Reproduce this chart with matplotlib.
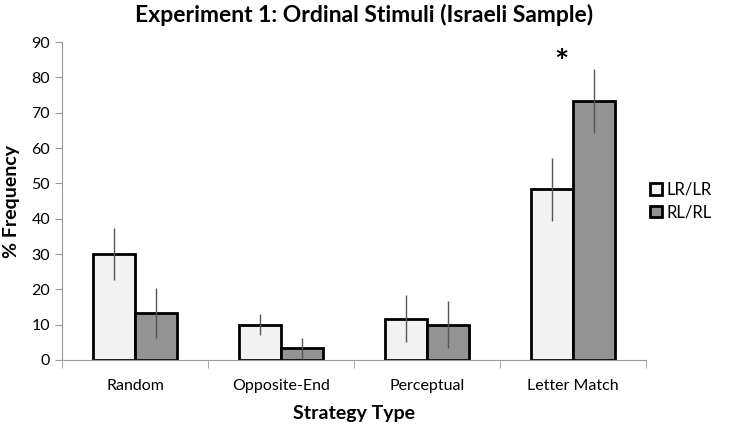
import numpy as np
import matplotlib
matplotlib.use("Agg")
import matplotlib.pyplot as plt

plt.rcParams['font.family'] = ['Lato', 'DejaVu Sans']

categories = ["Random", "Opposite-End", "Perceptual", "Letter Match"]
lr_vals = [30.0, 10.0, 11.7, 48.3]
rl_vals = [13.3, 3.3, 10.0, 73.3]
lr_err = [7.3, 3.0, 6.6, 9.0]
rl_err = [7.2, 3.0, 6.6, 9.0]
series_names = ["LR/LR", "RL/RL"]

fig = plt.figure(figsize=(7.29, 4.32), dpi=100)
ax = fig.add_axes([0.085, 0.1667, 0.801, 0.736])

x = np.arange(len(categories))
w = 0.29
ax.bar(x - w / 2, lr_vals, w, color="#f2f2f2", edgecolor="black", linewidth=2,
       label=series_names[0], zorder=2)
ax.bar(x + w / 2, rl_vals, w, color="#939393", edgecolor="black", linewidth=2,
       label=series_names[1], zorder=2)
ax.errorbar(x - w / 2, lr_vals, yerr=lr_err, fmt="none", ecolor="#555555",
            elinewidth=1, capsize=0, zorder=3)
ax.errorbar(x + w / 2, rl_vals, yerr=rl_err, fmt="none", ecolor="#555555",
            elinewidth=1, capsize=0, zorder=3)

# significance marker
ax.text(x[3] - 0.08, 84, "*", ha="center", va="center", fontsize=24, fontweight="bold")

ax.set_xlim(-0.5, len(categories) - 0.5)
ax.set_ylim(0, 90)
ax.set_yticks(range(0, 91, 10))
ax.set_xticks(x)
ax.set_xticklabels(categories, fontsize=11.5)
ax.set_xticks(np.arange(-0.5, len(categories), 1), minor=True)
ax.tick_params(axis="x", which="major", length=0, pad=14)
ax.tick_params(axis="x", which="minor", length=6, color="#999999")
ax.tick_params(axis="y", length=5, color="#999999", labelsize=11.5)

for s in ["top", "right"]:
    ax.spines[s].set_visible(False)
ax.spines["left"].set_color("#999999")
ax.spines["bottom"].set_color("#999999")

ax.set_xlabel("Strategy Type", fontsize=14, fontweight="bold", labelpad=8)
ax.set_ylabel("% Frequency", fontsize=14, fontweight="bold", labelpad=8)
fig.suptitle("Experiment 1: Ordinal Stimuli (Israeli Sample)", fontsize=16.5,
             fontweight="bold", y=0.99)

ax.legend(loc="center left", bbox_to_anchor=(0.99, 0.5), frameon=False,
          fontsize=12, handlelength=0.7, handleheight=0.7, handletextpad=0.3,
          labelspacing=0.4, borderaxespad=0.2)

fig.savefig("out.png", dpi=100)
